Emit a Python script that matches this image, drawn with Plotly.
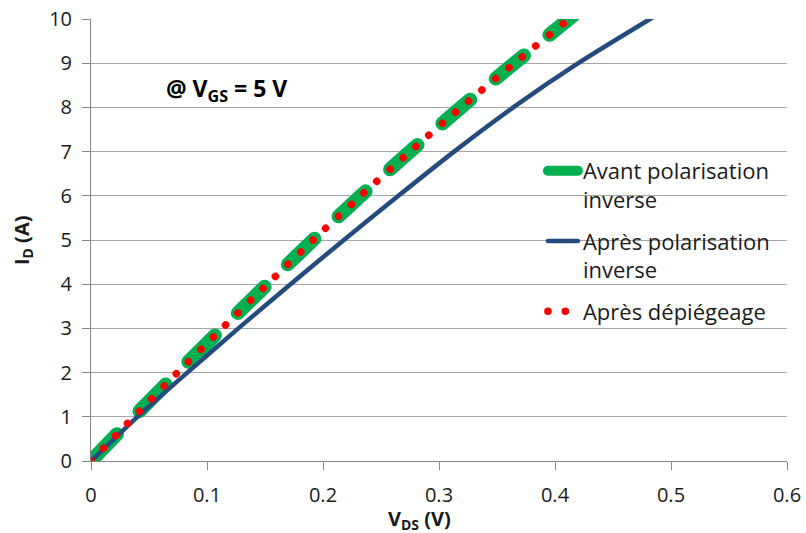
import plotly.graph_objects as go

# ---- data ----
vds_avant = [0, 0.037, 0.0745, 0.113, 0.152, 0.1915, 0.2325, 0.275, 0.319, 0.365, 0.412, 0.43]
id_avant = [0, 1, 2, 3, 4, 5, 6, 7, 8, 9, 10, 10.4]

vds_apres = [0, 0.040, 0.083, 0.127, 0.172, 0.218, 0.265, 0.313, 0.364, 0.420, 0.482, 0.50]
id_apres = [0, 1, 2, 3, 4, 5, 6, 7, 8, 9, 10, 10.28]

vds_depieg = [0, 0.037, 0.0745, 0.113, 0.152, 0.1915, 0.2325, 0.275, 0.319, 0.365, 0.412, 0.43]
id_depieg = [0, 1, 2, 3, 4, 5, 6, 7, 8, 9, 10, 10.4]

names = ["Avant polarisation<br>inverse", "Après polarisation<br>inverse", "Après dépiégeage"]
x_ticks = [0, 0.1, 0.2, 0.3, 0.4, 0.5, 0.6]
x_ticklabels = ["0", "0.1", "0.2", "0.3", "0.4", "0.5", "0.6"]
y_ticks = list(range(0, 11))

GREEN = "#00B050"
BLUE = "#234B7E"
RED = "#FF0000"
FONT = "Open Sans"

fig = go.Figure()
fig.add_trace(go.Scatter(
    x=vds_avant, y=id_avant, mode="lines", name=names[0], legendgroup="a",
    line=dict(color=GREEN, width=14, dash="37px,32.6px", shape="spline", smoothing=0.6),
))
fig.add_trace(go.Scatter(
    x=vds_apres, y=id_apres, mode="lines", name=names[1], legendgroup="b",
    line=dict(color=BLUE, width=4.5, shape="spline", smoothing=0.6),
))
fig.add_trace(go.Scatter(
    x=vds_depieg, y=id_depieg, mode="lines", name=names[2], legendgroup="c",
    line=dict(color=RED, width=7.5, dash="0.1px,17.3px", shape="spline", smoothing=0.6),
))

axis_col = "#868686"
fig.update_layout(
    width=806, height=533,
    margin=dict(l=91, r=19, t=19, b=72, pad=0, autoexpand=False),
    paper_bgcolor="white", plot_bgcolor="white",
    font=dict(family=FONT, color="#1a1a1a"),
    showlegend=True,
    legend=dict(
        x=0.6493, y=0.7036, xanchor="left", yanchor="top",
        bgcolor="rgba(0,0,0,0)", font=dict(family=FONT, size=22, color="#1a1a1a"),
        tracegroupgap=10, valign="top", traceorder="grouped",
    ),
    xaxis=dict(
        range=[0, 0.6], tickvals=x_ticks, ticktext=x_ticklabels, automargin=False,
        showgrid=False, zeroline=False, showline=True, linecolor=axis_col, linewidth=1,
        ticks="outside", ticklen=8, tickcolor=axis_col,
        tickfont=dict(family=FONT, size=20, color="#1a1a1a"),
        ticklabelstandoff=8,
    ),
    yaxis=dict(
        range=[0, 10], tickvals=y_ticks, automargin=False,
        showgrid=True, gridcolor="#A6A6A6", gridwidth=1,
        zeroline=False, showline=True, linecolor=axis_col, linewidth=1,
        ticks="outside", ticklen=8, tickcolor=axis_col,
        tickfont=dict(family=FONT, size=20, color="#1a1a1a"),
        ticklabelstandoff=6,
    ),
    annotations=[
        dict(text="<b>@ V<sub>GS</sub> = 5 V</b>", x=0.0625, y=8.4, xref="x", yref="y",
             xanchor="left", yanchor="middle", showarrow=False,
             font=dict(family=FONT, size=23, color="#000000")),
        dict(text="<b>I<sub>D</sub> (A)</b>", x=-0.099, y=5.0, xref="paper", yref="y",
             textangle=-90, xanchor="center", yanchor="middle", showarrow=False,
             font=dict(family=FONT, size=20, color="#1a1a1a")),
        dict(text="<b>V<sub>DS</sub> (V)</b>", x=0.2836, y=-0.133, xref="x", yref="paper",
             xanchor="center", yanchor="middle", showarrow=False,
             font=dict(family=FONT, size=20, color="#1a1a1a")),
    ],
)

post = ("var s=document.createElement('style');"
        "s.textContent='html,body{margin:0;padding:0;} .scatterlayer .js-line, .legend .js-line{stroke-linecap:round !important;}';"
        "document.head.appendChild(s);")
fig.write_html("out.html", post_script=post, config={"displayModeBar": False})
